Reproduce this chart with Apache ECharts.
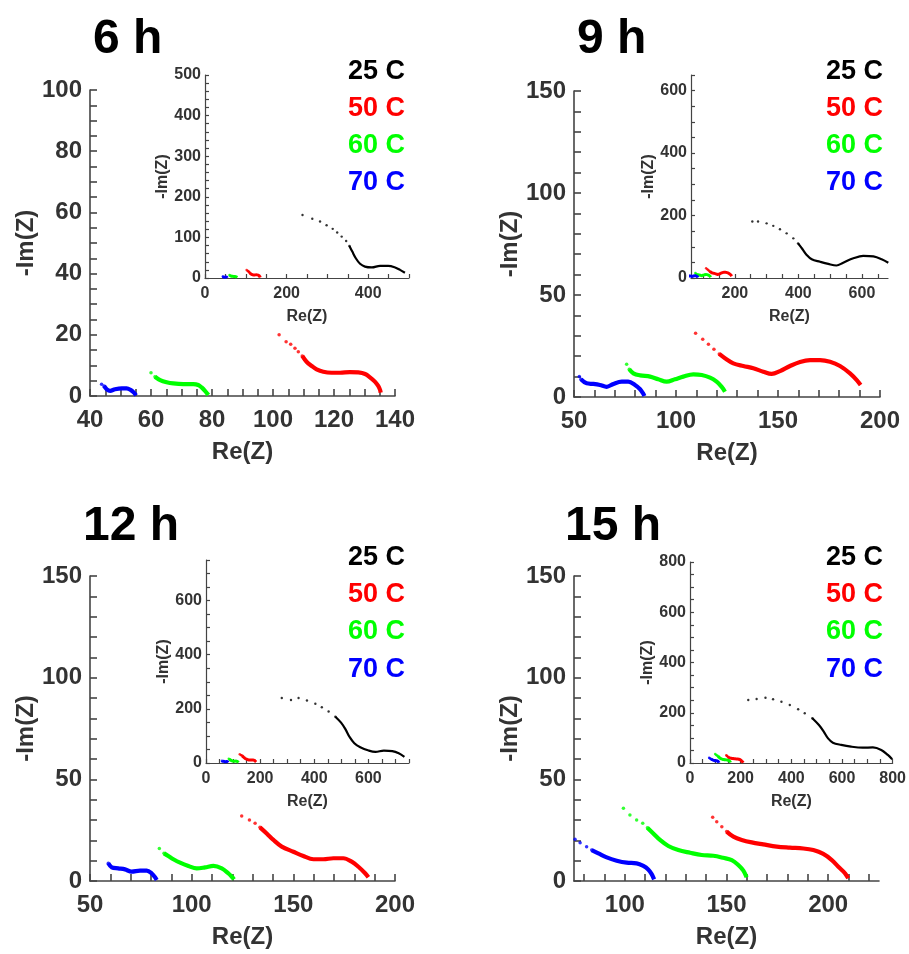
<!DOCTYPE html>
<html><head><meta charset="utf-8">
<script src="https://cdn.jsdelivr.net/npm/echarts@6/dist/echarts.min.js"></script>
<style>html,body{margin:0;padding:0;background:#fff}#c{width:909px;height:954px}</style>
</head><body><div id="c"></div>
<script>
// ---------------- DATA ----------------
const temps = ['25 C', '50 C', '60 C', '70 C'];
const hours = ['6 h', '9 h', '12 h', '15 h'];

// 6 h
const h6_25_head = [[239,155],[263,146],[282,139],[298,130],[313,121],[324,112],[335,102],[346,91],[354,79]];
const h6_25_body = [[361,65],[370,48],[380,35],[392,28],[409,26],[429,30],[449,30],[466,26],[478,20],[490,13]];
const h6_50_head = [[102,20],[104.3,17.7],[105.8,16.9],[107.2,15.6],[108.3,14.5],[109.6,13.1]];
const h6_50_body = [[111,11.2],[112.7,9.8],[114.3,8.7],[116.5,7.9],[119.2,7.6],[122,7.6],[125.2,7.8],[128,7.7],[130.2,7.2],[131.8,6.1],[133.4,4.7],[134.5,3.3],[135.1,2.0],[135.3,1.1]];
const h6_60_head = [[60,7.6],[61.3,6.3]];
const h6_60_body = [[63,5.2],[65.1,4.5],[67.3,4.1],[70.6,3.9],[73.9,3.9],[75.5,3.6],[76.6,2.8],[77.7,1.7],[78.5,0.7],[78.8,0.3]];
const h6_70_head = [[43.8,3.8],[44.6,3.3]];
const h6_70_body = [[45.5,2.2],[46.6,1.7],[48.2,2.2],[50.4,2.5],[52,2.5],[53.3,2.0],[54.4,1.1],[55.1,0.2]];

// 9 h
const h9_25_head = [[255,181],[273,181],[300,175],[321,167],[342,156],[363,143],[384,127],[399,111]];
const h9_25_body = [[413,92],[426,74],[442,60],[468,52],[494,45],[520,40],[541,49],[573,63],[604,71],[636,69],[662,60],[683,49]];
const h9_50_head = [[109.6,31.2],[113.1,28.3],[115.9,25.8],[118.6,23.4],[121.2,21.1]];
const h9_50_body = [[124,19],[128.1,16.5],[133,15.2],[137.9,14.1],[142.8,12.4],[146.9,11.3],[151,12.7],[155.9,15.2],[160.8,17.2],[165.7,18.1],[170.6,18.1],[175.5,17.3],[180.4,15.2],[185.3,11.6],[188.6,8.3],[190.5,5.9]];
const h9_60_head = [[75.8,16],[77.1,13.6]];
const h9_60_body = [[79.1,11.6],[82.4,10.6],[87.3,10],[91.3,8.7],[95.4,7.5],[99.5,8.7],[103.6,10],[108.5,11.1],[112.6,10.8],[116.7,9.5],[119.9,7.5],[122.4,5],[124,2.6]];
const h9_70_head = [[52.6,10],[53.4,8.7]];
const h9_70_body = [[56.2,6.7],[59.5,6.4],[62.7,5.9],[66,5],[69.3,6.4],[73.4,7.5],[76.6,7.5],[79.9,5.9],[82.4,3.8],[84,1.5],[84.5,0.5]];

// 12 h
const h12_25_head = [[280,240],[314,233],[342,240],[373,231],[404,219],[428,206],[453,190],[478,171]];
const h12_25_body = [[499,149],[515,125],[530,97],[548,73],[570,58],[601,46],[626,41],[657,46],[688,44],[712,36],[733,23]];
const h12_50_head = [[124.6,32],[128.4,30],[131.2,28.4],[133.6,26.4]];
const h12_50_body = [[136.9,23.4],[140.2,20.2],[144.3,16.9],[150,14.4],[154.9,12.3],[159.9,10.7],[164.8,10.7],[169.7,11.2],[174.6,11.2],[178.7,9.5],[182,7],[185.3,3.8],[186.9,1.8]];
const h12_60_head = [[84.1,16],[86.4,13.6]];
const h12_60_body = [[88.5,12.3],[91,10.7],[94.3,9],[98.4,7.4],[102.5,6.2],[106.6,6.7],[110.7,7.4],[114.8,6.2],[118,3.8],[120.2,1.6],[120.8,0.8]];
const h12_70_head = [[59,8.7]];
const h12_70_body = [[60.7,6.7],[63.9,6.2],[67.2,5.7],[70.5,4.6],[74.6,5.1],[77.9,5.1],[80.3,3.8],[82,1.8],[82.8,0.5]];

// 15 h
const h15_25_head = [[230,251],[263,255],[298,260],[328,254],[361,244],[394,231],[427,214],[453,198],[483,178]];
const h15_25_body = [[509,151],[528,125],[545,98],[564,81],[597,72],[636,65],[682,61],[722,62],[755,52],[781,32],[798,15]];
const h15_50_head = [[143.2,31.3],[145.2,29.2],[147.7,26.7],[150.1,24.3]];
const h15_50_body = [[153.4,21.8],[157.5,20.2],[162.4,19],[168.1,18],[174.7,16.9],[181.2,16.4],[187.8,16],[192.7,15.2],[197.6,13.3],[201.8,10.3],[205,7],[208.3,3.8],[209.9,1.3]];
const h15_60_head = [[99.3,35.8],[102.5,32.5],[105.8,30],[108.8,28.4],[111.1,26.2]];
const h15_60_body = [[114,23.4],[117.3,20.2],[121.4,17.2],[126.3,15.2],[132.1,13.9],[137.8,12.8],[143.5,12.4],[148.4,11.4],[152.6,10.3],[155.8,7.9],[158.3,5.1],[159.9,1.8]];
const h15_70_head = [[75.5,20.5],[78,18.8],[81.2,16.9],[83.7,15.2]];
const h15_70_body = [[87,13.6],[91.1,11.6],[96,10],[100.9,9],[105.8,8.7],[109.1,7.4],[111.5,5.7],[113.2,3.4],[114.4,0.8]];

// axis ranges & tick labels
const main6_x = [40, 140];   const main6_xLabels = [40,60,80,100,120,140];  const main6_xTickStep = 5;
const main6_y = [0, 100];    const main6_yLabels = [0,20,40,60,80,100];     const main6_yTickStep = 5;
const main9_x = [50, 200];   const main9_xLabels = [50,100,150,200];        const main9_xTickStep = 10;
const main9_y = [0, 150];    const main9_yLabels = [0,50,100,150];          const main9_yTickStep = 10;
const main12_x = [50, 200];  const main12_xLabels = [50,100,150,200];       const main12_xTickStep = 10;
const main12_y = [0, 150];   const main12_yLabels = [0,50,100,150];         const main12_yTickStep = 10;
const main15_x = [75, 225];  const main15_xLabels = [100,150,200];          const main15_xTickStep = 10;
const main15_y = [0, 150];   const main15_yLabels = [0,50,100,150];         const main15_yTickStep = 10;

const inset6_x = [0, 500];   const inset6_xLabels = [0,200,400];            const inset6_xTickStep = 50;
const inset6_y = [0, 500];   const inset6_yLabels = [0,100,200,300,400,500]; const inset6_yTickStep = 20;
const inset9_x = [62, 682];  const inset9_xLabels = [200,400,600];          const inset9_xTickStep = 50;
const inset9_y = [0, 650];   const inset9_yLabels = [0,200,400,600];        const inset9_yTickStep = 50;
const inset12_x = [0, 750];  const inset12_xLabels = [0,200,400,600];       const inset12_xTickStep = 50;
const inset12_y = [0, 750];  const inset12_yLabels = [0,200,400,600];       const inset12_yTickStep = 50;
const inset15_x = [0, 800];  const inset15_xLabels = [0,200,400,600,800];   const inset15_xTickStep = 50;
const inset15_y = [0, 800];  const inset15_yLabels = [0,200,400,600,800];   const inset15_yTickStep = 50;

// ---------------- BUILD ----------------
const FONT = '"Liberation Sans", Arial, Helvetica, sans-serif';
const colors = ['#000000', '#ff0000', '#00ff00', '#0000ff'];
const AXIS_COLOR = '#444444';
const LABEL_COLOR = '#333333';

function ticks(ext, step) {
  const r = [];
  const start = Math.ceil(ext[0] / step) * step;
  for (let v = start; v <= ext[1] + 1e-9; v += step) r.push(+v.toFixed(6));
  return r;
}

const panelData = [
  [[h6_25_head,h6_25_body],[h6_50_head,h6_50_body],[h6_60_head,h6_60_body],[h6_70_head,h6_70_body]],
  [[h9_25_head,h9_25_body],[h9_50_head,h9_50_body],[h9_60_head,h9_60_body],[h9_70_head,h9_70_body]],
  [[h12_25_head,h12_25_body],[h12_50_head,h12_50_body],[h12_60_head,h12_60_body],[h12_70_head,h12_70_body]],
  [[h15_25_head,h15_25_body],[h15_50_head,h15_50_body],[h15_60_head,h15_60_body],[h15_70_head,h15_70_body]]
];
const mainAxes = [
  [main6_x, main6_xLabels, main6_xTickStep, main6_y, main6_yLabels, main6_yTickStep],
  [main9_x, main9_xLabels, main9_xTickStep, main9_y, main9_yLabels, main9_yTickStep],
  [main12_x, main12_xLabels, main12_xTickStep, main12_y, main12_yLabels, main12_yTickStep],
  [main15_x, main15_xLabels, main15_xTickStep, main15_y, main15_yLabels, main15_yTickStep]
];
const insetAxes = [
  [inset6_x, inset6_xLabels, inset6_xTickStep, inset6_y, inset6_yLabels, inset6_yTickStep],
  [inset9_x, inset9_xLabels, inset9_xTickStep, inset9_y, inset9_yLabels, inset9_yTickStep],
  [inset12_x, inset12_xLabels, inset12_xTickStep, inset12_y, inset12_yLabels, inset12_yTickStep],
  [inset15_x, inset15_xLabels, inset15_xTickStep, inset15_y, inset15_yLabels, inset15_yTickStep]
];

// layout (pixels)
const mainGrids = [
  {left: 90, top: 90, width: 305, height: 306},
  {left: 574, top: 91, width: 306, height: 306},
  {left: 90, top: 576, width: 305, height: 305},
  {left: 574, top: 576, width: 305, height: 305}
];
const insetGrids = [
  {left: 205, top: 75, width: 204, height: 203},
  {left: 691, top: 75, width: 197, height: 203},
  {left: 206, top: 560, width: 203, height: 203},
  {left: 690, top: 562, width: 203, height: 201}
];
const titlePos = [[93, 40], [577, 40], [83, 527], [565, 527]];
const legendPos = [[405, [72,109,146,183]], [883, [72,109,146,183]], [405, [558,595,632,670]], [883, [558,595,632,670]]];

const grid = [], xAxis = [], yAxis = [], series = [], graphic = [];

function makeAxes(g, ax, isMain) {
  const fs = isMain ? 24 : 16;
  const tl = isMain ? 7 : 4;
  const lw = isMain ? 1.6 : 1.2;
  const common = {
    type: 'value', gridIndex: g,
    splitLine: {show: false},
    axisLine: {show: true, onZero: false, lineStyle: {color: AXIS_COLOR, width: lw}},
    nameLocation: 'middle',
    nameTextStyle: {fontSize: fs, fontWeight: 'bold', color: LABEL_COLOR, fontFamily: FONT}
  };
  xAxis.push(Object.assign({}, common, {
    position: 'bottom', min: ax[0][0], max: ax[0][1],
    axisTick: {show: true, inside: true, length: tl, customValues: ticks(ax[0], ax[2]), lineStyle: {color: AXIS_COLOR, width: lw}},
    axisLabel: {customValues: ax[1], margin: isMain ? 12 : 8, fontSize: fs, fontWeight: 'bold', color: LABEL_COLOR, fontFamily: FONT},
    name: 'Re(Z)', nameGap: isMain ? 44 : 31
  }));
  yAxis.push(Object.assign({}, common, {
    position: 'left', min: ax[3][0], max: ax[3][1],
    axisTick: {show: true, inside: true, length: tl, customValues: ticks(ax[3], ax[5]), lineStyle: {color: AXIS_COLOR, width: lw}},
    axisLabel: {customValues: ax[4], margin: isMain ? 8 : 4, fontSize: fs, fontWeight: 'bold', color: LABEL_COLOR, fontFamily: FONT},
    name: '-Im(Z)', nameGap: isMain ? 52 : 34
  }));
}

for (let p = 0; p < 4; p++) {
  const gMain = grid.length;
  grid.push(mainGrids[p]);
  makeAxes(gMain, mainAxes[p], true);
  const gIn = grid.length;
  grid.push(insetGrids[p]);
  makeAxes(gIn, insetAxes[p], false);

  for (let t = 0; t < 4; t++) {
    const [head, body] = panelData[p][t];
    // the dense part continues from the last sparse point
    const bodyLine = [head[head.length - 1]].concat(body);
    // main panel (25 C lies outside the main range)
    if (t > 0) {
      series.push({type: 'scatter', name: temps[t], xAxisIndex: gMain, yAxisIndex: gMain, data: head,
        symbol: 'circle', symbolSize: 3.5, itemStyle: {color: colors[t]}, silent: true, clip: true});
      series.push({type: 'line', name: temps[t], xAxisIndex: gMain, yAxisIndex: gMain, data: bodyLine,
        showSymbol: false, smooth: 0.35, lineStyle: {color: colors[t], width: 4.2}, itemStyle: {color: colors[t]}, silent: true, clip: true});
    }
    // inset
    series.push({type: 'scatter', name: temps[t], xAxisIndex: gIn, yAxisIndex: gIn, data: head,
      symbol: 'circle', symbolSize: t === 0 ? 2.4 : 2.5, itemStyle: {color: colors[t]}, silent: true, clip: true});
    series.push({type: 'line', name: temps[t], xAxisIndex: gIn, yAxisIndex: gIn, data: bodyLine,
      showSymbol: false, smooth: 0.35, lineStyle: {color: colors[t], width: t === 0 ? 2.2 : 3}, itemStyle: {color: colors[t]}, silent: true, clip: true});
  }

  graphic.push({type: 'text', x: titlePos[p][0], y: titlePos[p][1],
    style: {text: hours[p], font: 'bold 48px ' + FONT, fill: '#000', align: 'left', verticalAlign: 'middle'}});
  for (let t = 0; t < 4; t++) {
    graphic.push({type: 'text', x: legendPos[p][0], y: legendPos[p][1][t],
      style: {text: temps[t], font: 'bold 27px ' + FONT, fill: colors[t], align: 'right', verticalAlign: 'middle'}});
  }
}

const chart = echarts.init(document.getElementById('c'), null, {renderer: 'canvas'});
chart.setOption({
  backgroundColor: '#ffffff',
  animation: false,
  grid, xAxis, yAxis, series, graphic
});
</script>
</body></html>
